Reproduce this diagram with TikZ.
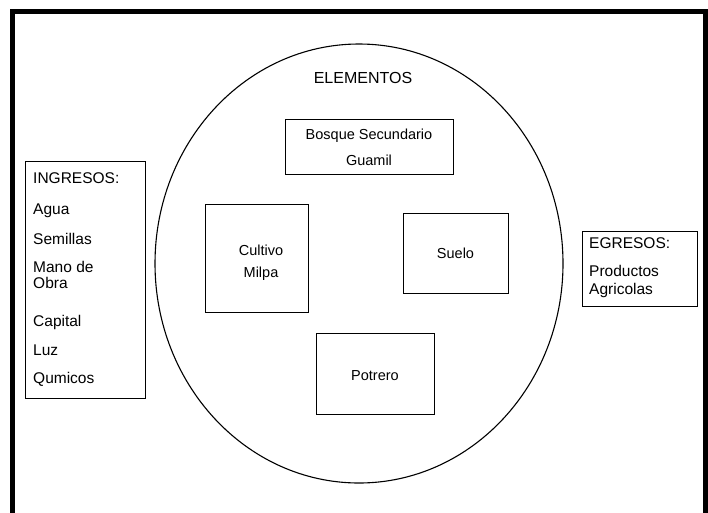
\documentclass[tikz,border=0pt]{standalone}
\usepackage{fontspec}
\setmainfont{Liberation Sans}
\begin{document}
\begin{tikzpicture}[x=1pt,y=-1pt,
	box/.style={draw, line width=0.9pt, inner sep=0pt},
	lbl/.style={font=\fontsize{14.5}{15}\selectfont, inner sep=0pt, anchor=base},
	lst/.style={font=\fontsize{15.5}{16}\selectfont, inner sep=0pt, anchor=base west}]
	\useasboundingbox (0,0) rectangle (708,512);
	\clip (0,0) rectangle (708,512);
	% marco
	\coordinate (fA) at (12.5,530);
	\coordinate (fB) at (12.5,11.5);
	\coordinate (fC) at (705.5,11.5);
	\coordinate (fD) at (705.5,530);
	\draw[line width=5pt] (fA) -- (fB) -- (fC) -- (fD);
	% elementos
	\coordinate (centro) at (359,263.5);
	\draw[line width=1.1pt] (centro) ellipse (204 and 219.5);
	\node[lbl, font=\fontsize{16}{16}\selectfont] (elementos) at (363,83) {ELEMENTOS};
	\node[box, minimum width=168pt, minimum height=55pt] (bosque) at (369,146.5) {};
	\node[lbl] (bosqueA) at (369,139.5) {Bosque Secundario};
	\node[lbl] (bosqueB) at (369,165) {Guamil};
	\node[box, minimum width=103pt, minimum height=108pt] (cultivo) at (256.5,258) {};
	\node[lbl] (cultivoA) at (261,255) {Cultivo};
	\node[lbl] (cultivoB) at (261,277) {Milpa};
	\node[box, minimum width=105pt, minimum height=80pt] (suelo) at (455.5,253) {};
	\node[lbl] (sueloA) at (455.5,258.5) {Suelo};
	\node[box, minimum width=118pt, minimum height=81pt] (potrero) at (375,373.5) {};
	\node[lbl] (potreroA) at (375,380) {Potrero};
	% ingresos
	\node[box, minimum width=120pt, minimum height=237pt] (ingresos) at (85,279.5) {};
	\node[lst] (ing0) at (33,183) {INGRESOS:};
	\node[lst] (ing1) at (33,214) {Agua};
	\node[lst] (ing2) at (33,244) {Semillas};
	\node[lst] (ing3) at (33,272) {Mano de};
	\node[lst] (ing4) at (33,288) {Obra};
	\node[lst] (ing5) at (33,326) {Capital};
	\node[lst] (ing6) at (33,355) {Luz};
	\node[lst] (ing7) at (33,383) {Qumicos};
	% egresos
	\node[box, minimum width=115pt, minimum height=75pt] (egresos) at (639.5,268.5) {};
	\node[lst] (egr0) at (589,248) {EGRESOS:};
	\node[lst] (egr1) at (589,276.5) {Productos};
	\node[lst] (egr2) at (589,294.5) {Agricolas};
\end{tikzpicture}
\end{document}
